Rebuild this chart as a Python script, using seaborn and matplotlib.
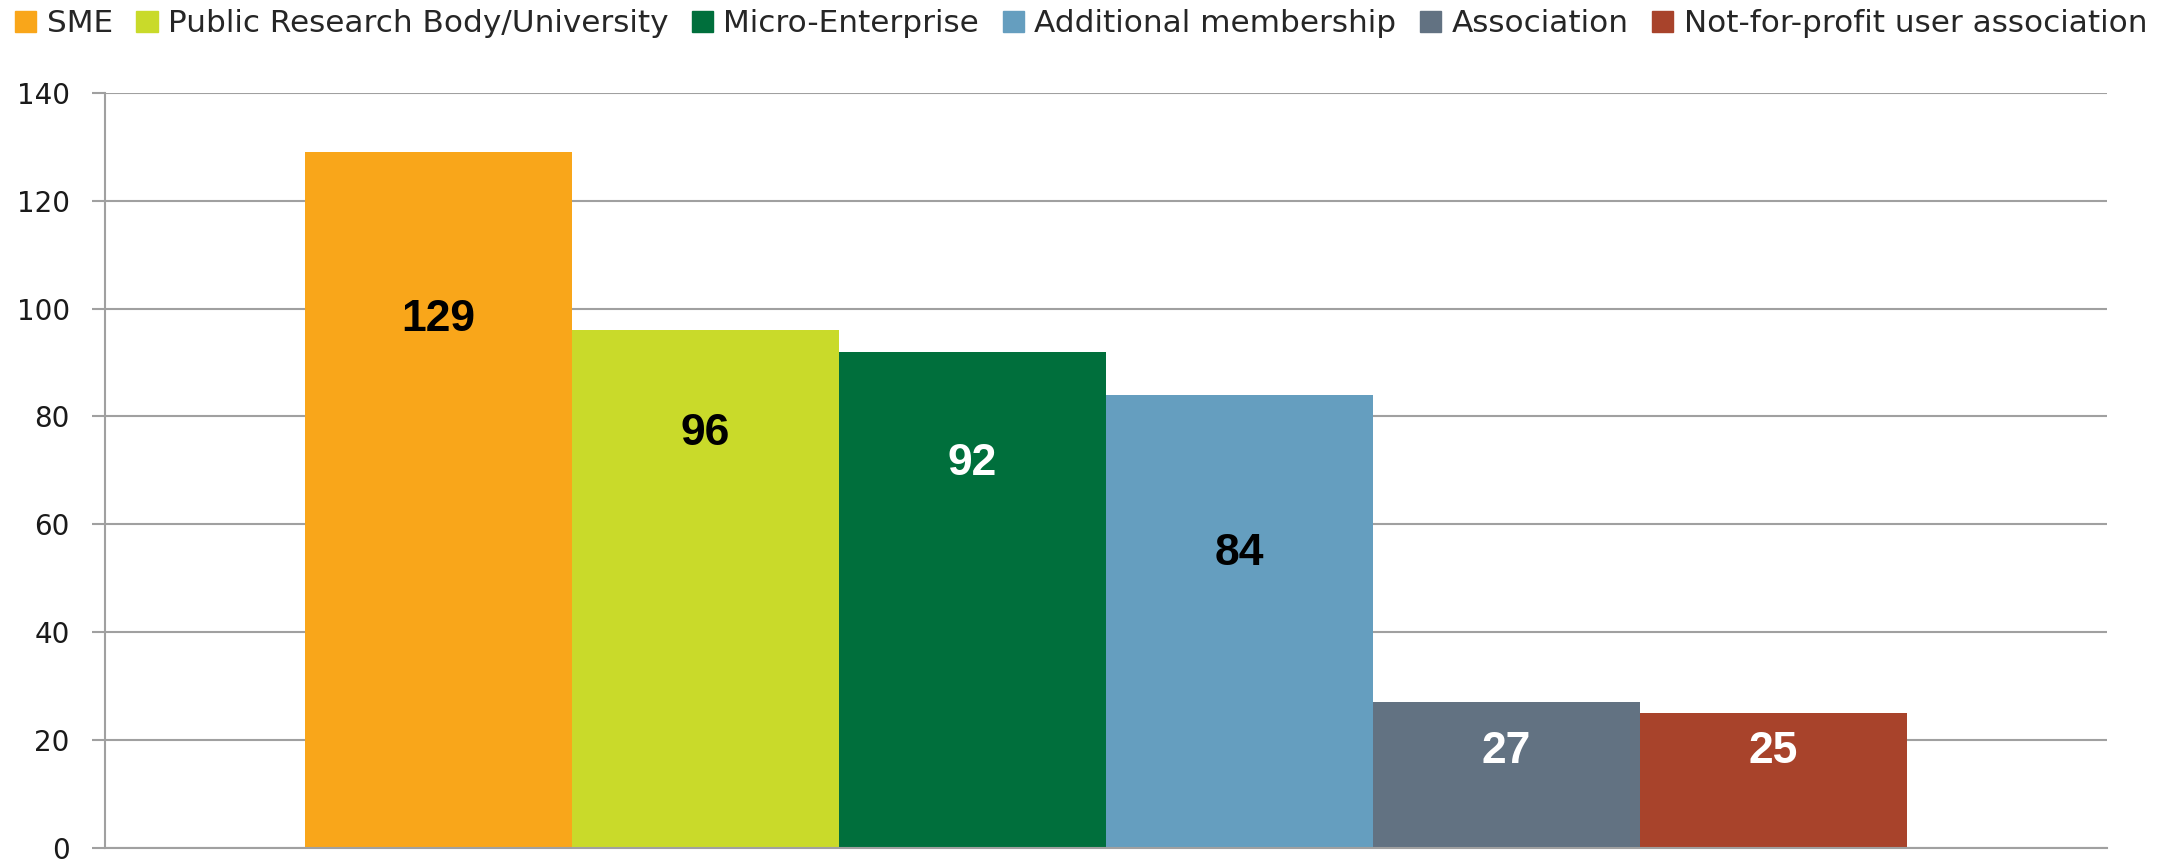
import pandas as pd
import matplotlib
matplotlib.use("Agg")
import matplotlib.pyplot as plt
import matplotlib.patches as mpatches
import seaborn as sns

# Data
types = ["SME", "Public Research Body/University", "Micro-Enterprise",
         "Additional membership", "Association", "Not-for-profit user association"]
counts = [129, 96, 92, 84, 27, 25]
colors = ["#F9A61A", "#C9DA2A", "#006F3C", "#659EBF", "#627282", "#A8432B"]
label_colors = ["black", "black", "white", "black", "white", "white"]
# vertical centre of each value label
label_y = [98.9, 77.7, 72.1, 55.5, 18.7, 18.7]

df = pd.DataFrame({"group": [""] * len(types), "type": types, "count": counts})

sns.set_style("white")
plt.rcParams["font.family"] = ["DejaVu Sans"]

fig = plt.figure(figsize=(21.69, 8.6), dpi=100)
ax = fig.add_axes([0.0484, 0.014, 0.9230, 0.878])

sns.barplot(data=df, x="group", y="count", hue="type", hue_order=types,
            palette=colors, saturation=1, width=0.8, gap=0, linewidth=0,
            ax=ax, legend=False)

ax.set_xlim(-0.5, 0.5)
ax.set_ylim(0, 140)
ax.set_yticks(range(0, 141, 20))
ax.yaxis.grid(True, color="#A0A0A0", linewidth=1.5)
ax.set_axisbelow(True)
ax.set_xlabel("")
ax.set_ylabel("")
ax.set_xticks([])
ax.tick_params(axis="y", which="major", length=9.4, width=1.5, color="#A0A0A0",
               labelsize=20, labelcolor="#1a1a1a", pad=16, left=True, direction="out")
for side in ["top", "right"]:
    ax.spines[side].set_visible(False)
for side in ["left", "bottom"]:
    ax.spines[side].set_color("#A0A0A0")
    ax.spines[side].set_linewidth(1.5)

# Value labels, centred on the digits
for cont, v, ly, lc in zip(ax.containers, counts, label_y, label_colors):
    bar = cont.patches[0]
    cx = bar.get_x() + bar.get_width() / 2
    ax.annotate(str(v), xy=(cx, ly), xytext=(0, -11.5), textcoords="offset points",
                ha="center", va="baseline", fontsize=32, fontweight="bold",
                color=lc, family=["Liberation Sans"])

# Legend
handles = [mpatches.Patch(color=c, label=t) for c, t in zip(colors, types)]
fig.legend(handles=handles, loc="upper left", bbox_to_anchor=(0.0069, 0.989), ncol=6,
           frameon=False, handlelength=0.69, handleheight=0.69, handletextpad=0.33,
           columnspacing=0.75, borderaxespad=0, borderpad=0,
           prop={"size": 22.4})

fig.savefig("out.png", dpi=100)
